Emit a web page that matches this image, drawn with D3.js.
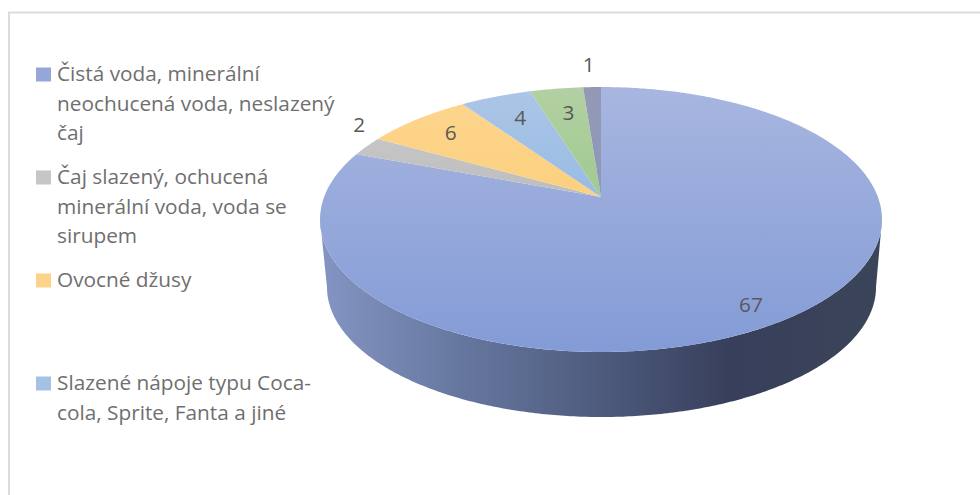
<!DOCTYPE html>
<html>
<head>
<meta charset="utf-8">
<script src="https://cdn.jsdelivr.net/npm/d3@7"></script>
<style>
  html, body { margin: 0; padding: 0; background: #fff; }
  svg { display: block; }
  text { font-family: "Open Sans", "Noto Sans", sans-serif; }
</style>
</head>
<body>
<svg id="chart" width="980" height="495"></svg>
<script>
// Drink preferences, in survey order
const sliceValues = [67, 2, 6, 4, 3, 1];
const sliceTopColors = ["#a8b6e0", "#cdcdcd", "#fdd58f", "#acc6e6", "#b3d0a2", "#9399b5"];
const sliceBottomColors = ["#839bd6", "#bdbdbd", "#fbd07f", "#98bbe4", "#a0ca90", "#8f98b8"];
const legendEntries = [
  ["Čistá voda, minerální", "neochucená voda, neslazený", "čaj"],
  ["Čaj slazený, ochucená", "minerální voda, voda se", "sirupem"],
  ["Ovocné džusy"],
  ["Slazené nápoje typu Coca-", "cola, Sprite, Fanta a jiné"]
];
const legendBaselines = [81, 184, 287, 390];
const legendColors = ["#94a7d8", "#c6c6c6", "#fdd38a", "#a5c2e6"];

const svg = d3.select("#chart");

// Frame around the chart area
svg.append("path")
  .attr("d", "M9,495V12.5H980")
  .attr("fill", "none")
  .attr("stroke", "#dcdcdc")
  .attr("stroke-width", 2);

// Perspective projection of a unit disc onto the tilted pie surface
const tilt = -0.1698;
const centerX = 601;
const centerY = 197;
const spanX = 276.9;
const spanY = 128.65;

function projectTop(angle, r = 1) {
  const u = Math.sin(angle) * r, v = -Math.cos(angle) * r;
  const w = 1 + tilt * v;
  return [centerX + spanX * u / w, centerY + spanY * v / w];
}

// The underside is a slightly smaller copy of the surface, moved down by the pie's depth
function projectBottom(angle) {
  const [x, y] = projectTop(angle);
  return [centerX + 0.5 + (x - centerX) * 0.977, centerY + (y - centerY) * 0.981 + 68];
}

const line = d3.line();
const pie = d3.pie().value(d => d).sort(null);
const slices = pie(sliceValues);
const rimPoints = (a0, a1, project) => {
  const n = Math.max(2, Math.ceil(Math.abs(a1 - a0) / 0.01));
  return d3.range(n + 1).map(i => project(a0 + (a1 - a0) * i / n));
};

const defs = svg.append("defs");

// Side wall: lit on the left, falling into shadow toward the right
const wallGradient = defs.append("linearGradient")
  .attr("id", "wall").attr("gradientUnits", "userSpaceOnUse")
  .attr("x1", 320).attr("x2", 882).attr("y1", 0).attr("y2", 0);
[[0, "#8495c4"], [0.25, "#66779f"], [0.5, "#4e5b7d"], [0.73, "#373f5b"], [1, "#3b4559"]]
  .forEach(([o, c]) => wallGradient.append("stop").attr("offset", o).attr("stop-color", c));

sliceValues.forEach((_, i) => {
  const g = defs.append("linearGradient")
    .attr("id", `slice${i}`).attr("gradientUnits", "userSpaceOnUse")
    .attr("x1", 0).attr("x2", 0).attr("y1", 87).attr("y2", i === 0 ? 352 : 197);
  g.append("stop").attr("offset", 0).attr("stop-color", sliceTopColors[i]);
  g.append("stop").attr("offset", 1).attr("stop-color", sliceBottomColors[i]);
});

// Visible front part of the wall, running between the widest points of the ellipses
const widestRight = Math.PI / 2 + Math.asin(-tilt);
const widestLeft = Math.PI * 2 - widestRight;
const wallTop = rimPoints(widestRight, widestLeft, projectTop);
const wallBottom = rimPoints(widestLeft, widestRight, projectBottom);
svg.append("path")
  .attr("d", line(wallTop.concat(wallBottom)) + "Z")
  .attr("fill", "url(#wall)");

// Top surface of every slice
svg.append("g").selectAll("path")
  .data(slices)
  .join("path")
  .attr("d", d => line([[centerX, centerY]].concat(rimPoints(d.startAngle, d.endAngle, projectTop))) + "Z")
  .attr("fill", (d, i) => `url(#slice${i})`);

// Data labels: along each slice's mid-angle, nudged clear of the slice edges
const labelRadius = [0.8, 1.09, 0.72, 0.72, 0.72, 1.19];
const labelNudge = [[8, 12], [12, -18], [-14, -7], [-2, -5], [1, -3], [-2, -5]];
svg.append("g").selectAll("text")
  .data(slices)
  .join("text")
  .attr("transform", (d, i) => {
    const [x, y] = projectTop((d.startAngle + d.endAngle) / 2, labelRadius[i]);
    return `translate(${x + labelNudge[i][0]},${y + labelNudge[i][1]})`;
  })
  .attr("text-anchor", "middle")
  .attr("dy", "0.36em")
  .attr("font-size", 20.8)
  .attr("fill", "#595959")
  .text(d => d.value);

// Legend
const legend = svg.append("g").selectAll("g")
  .data(legendEntries)
  .join("g")
  .attr("transform", (d, i) => `translate(0,${legendBaselines[i]})`);

legend.append("rect")
  .attr("x", 36).attr("y", -13.5)
  .attr("width", 15).attr("height", 14)
  .attr("fill", (d, i) => legendColors[i]);

legend.selectAll("text")
  .data(d => d)
  .join("text")
  .attr("x", 57)
  .attr("y", (d, i) => i * 29.5)
  .attr("font-size", 20.8)
  .attr("fill", "#6f6f6f")
  .text(d => d);
</script>
</body>
</html>
